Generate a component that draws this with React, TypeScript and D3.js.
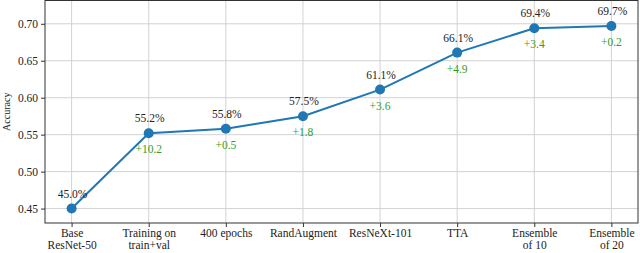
import React, { useEffect, useRef } from 'react';
import * as d3 from 'd3';

const steps = [
  ['Base', 'ResNet-50'],
  ['Training on', 'train+val'],
  ['400 epochs'],
  ['RandAugment'],
  ['ResNeXt-101'],
  ['TTA'],
  ['Ensemble', 'of 10'],
  ['Ensemble', 'of 20'],
];
const accuracy = [0.45, 0.552, 0.558, 0.575, 0.611, 0.661, 0.694, 0.697];
const accLabels = ['45.0%', '55.2%', '55.8%', '57.5%', '61.1%', '66.1%', '69.4%', '69.7%'];
const gains = ['', '+10.2', '+0.5', '+1.8', '+3.6', '+4.9', '+3.4', '+0.2'];
const yTicks = [0.45, 0.5, 0.55, 0.6, 0.65, 0.7];

export default function App() {
  const ref = useRef<SVGSVGElement | null>(null);

  useEffect(() => {
    const svg = d3.select(ref.current);
    svg.selectAll('*').remove();

    const margin = { top: 0.5, right: 2, bottom: 30, left: 45 };
    const width = 640;
    const height = 253;
    const font = '"Liberation Serif", "DejaVu Serif", serif';

    // matplotlib-style padding around the categorical axis
    const x = d3.scaleLinear()
      .domain([-0.345, steps.length - 1 + 0.345])
      .range([margin.left, width - margin.right]);
    const y = d3.scaleLinear()
      .domain([0.4305, 0.7315])
      .range([height - margin.bottom, margin.top]);

    const g = svg.append('g');

    // grid
    g.selectAll('.vgrid').data(steps).join('line')
      .attr('x1', (_, i) => x(i)).attr('x2', (_, i) => x(i))
      .attr('y1', y.range()[0]).attr('y2', y.range()[1])
      .attr('stroke', '#d2d2d2').attr('stroke-width', 1);
    g.selectAll('.hgrid').data(yTicks).join('line')
      .attr('x1', x.range()[0]).attr('x2', x.range()[1])
      .attr('y1', d => y(d)).attr('y2', d => y(d))
      .attr('stroke', '#d2d2d2').attr('stroke-width', 1);

    // y axis
    const yAxis = d3.axisLeft(y).tickValues(yTicks).tickFormat(d3.format('.2f')).tickSize(4).tickPadding(3);
    const ya = g.append('g').attr('transform', `translate(${margin.left},0)`).call(yAxis);
    ya.select('.domain').remove();
    ya.selectAll('text').attr('font-family', font).attr('font-size', 11.5).attr('fill', '#222');
    ya.selectAll('line').attr('stroke', '#333');

    // x axis
    const xAxis = d3.axisBottom(x).tickValues(d3.range(steps.length)).tickFormat(() => '').tickSize(4);
    const xa = g.append('g').attr('transform', `translate(0,${height - margin.bottom})`).call(xAxis);
    xa.select('.domain').remove();
    xa.selectAll('line').attr('stroke', '#333');
    xa.selectAll('.tick').each(function (_, i) {
      const t = d3.select(this).select('text')
        .attr('y', 0).attr('dy', null)
        .attr('font-family', font).attr('font-size', 11.5).attr('fill', '#222');
      steps[i].forEach((line, k) => {
        t.append('tspan').attr('x', 0).attr('y', 14 + k * 12).text(line);
      });
    });

    // frame
    g.append('rect')
      .attr('x', margin.left).attr('y', margin.top)
      .attr('width', width - margin.right - margin.left)
      .attr('height', height - margin.bottom - margin.top)
      .attr('fill', 'none').attr('stroke', '#333').attr('stroke-width', 1);

    g.append('text')
      .attr('transform', `translate(10,${(y.range()[0] + y.range()[1]) / 2}) rotate(-90)`)
      .attr('text-anchor', 'middle')
      .attr('font-family', font).attr('font-size', 10).attr('fill', '#222')
      .text('Accuracy');

    // line + markers
    const line = d3.line<number>().x((_, i) => x(i)).y(d => y(d));
    g.append('path').datum(accuracy)
      .attr('d', line).attr('fill', 'none').attr('stroke', '#1f77b4').attr('stroke-width', 2);
    g.selectAll('.pt').data(accuracy).join('circle')
      .attr('cx', (_, i) => x(i)).attr('cy', d => y(d)).attr('r', 5)
      .attr('fill', '#1f77b4');

    g.selectAll('.acc').data(accuracy).join('text')
      .attr('x', (_, i) => x(i) + 1).attr('y', d => y(d) - 11)
      .attr('text-anchor', 'middle')
      .attr('font-family', font).attr('font-size', 11.5).attr('fill', '#222')
      .text((_, i) => accLabels[i]);

    g.selectAll('.gain').data(accuracy).join('text')
      .attr('x', (_, i) => x(i)).attr('y', d => y(d) + 20)
      .attr('text-anchor', 'middle')
      .attr('font-family', font).attr('font-size', 11.5).attr('fill', '#2ca02c')
      .text((_, i) => gains[i]);
  }, []);

  return (
    <svg ref={ref} width={640} height={253}
      style={{ position: 'absolute', left: 0, top: 0, background: '#fff' }} />
  );
}
